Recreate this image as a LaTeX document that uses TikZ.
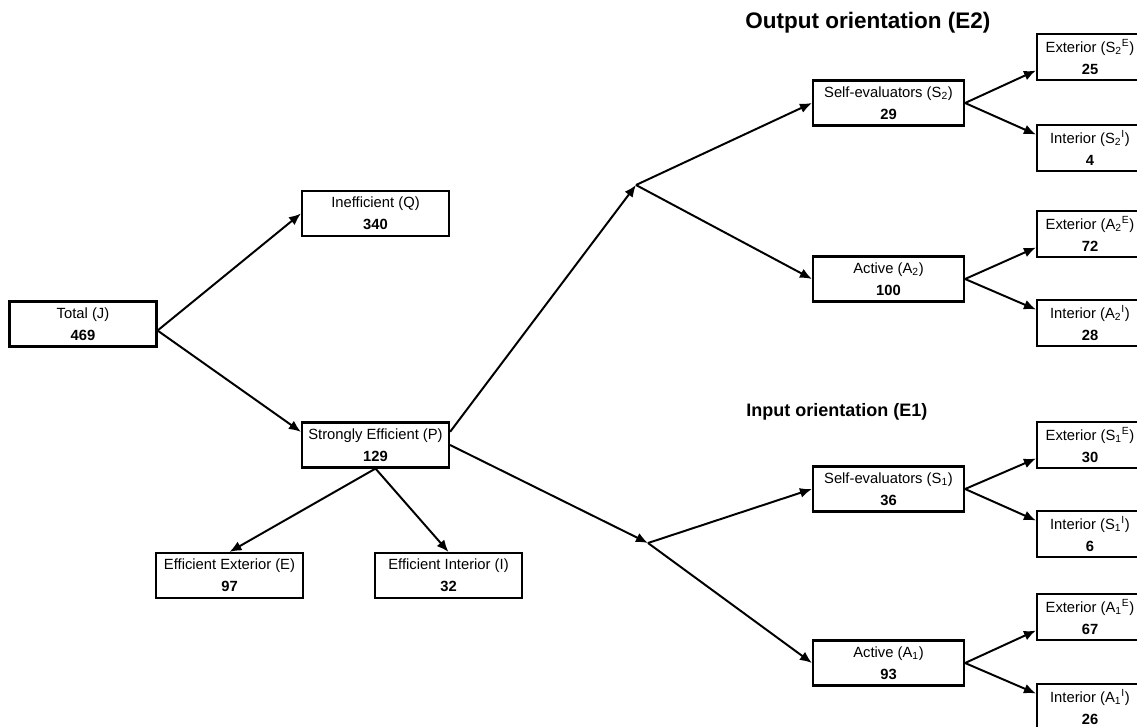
\documentclass[tikz,border=0pt]{standalone}
\usepackage{fontspec}
\setmainfont{Liberation Sans}
\usepackage{tikz}
\usetikzlibrary{arrows.meta, positioning}

\begin{document}
\begin{tikzpicture}[
    x=0.025cm, y=-0.025cm,
    every node/.style={font=\fontsize{10.5}{15.5}\selectfont},
    box/.style={rectangle, draw=black, line width=1.5pt, minimum width=3.675cm, minimum height=1.125cm, align=center, inner sep=1pt},
    midbox/.style={box, minimum width=3.775cm},
    leaf/.style={box, minimum width=2.65cm, minimum height=1.15cm},
    arrow/.style={-{Latex[length=3mm, width=2.5mm]}, line width=1.4pt},
    bigtitle/.style={font=\fontsize{16}{19}\selectfont\bfseries, anchor=west, inner sep=0pt},
    smalltitle/.style={font=\fontsize{12.8}{15}\selectfont\bfseries, anchor=west, inner sep=0pt}
]
\useasboundingbox (0,0) rectangle (1137,726);

% first split
\node (tot) [box] at (83,324) {Total (J)\\\textbf{469}};
\node (ineff) [box] at (375.5,213.5) {Inefficient (Q)\\\textbf{340}};
\node (strong) [box] at (375.5,445) {Strongly Efficient (P)\\\textbf{129}};
\node (effext) [box] at (229.5,575.5) {Efficient Exterior (E)\\\textbf{97}};
\node (effint) [box] at (448.5,575.5) {Efficient Interior (I)\\\textbf{32}};

\coordinate (br2) at (636,185);
\coordinate (br1) at (648,543);

% output orientation
\node (ttl2) [bigtitle] at (745,23) {Output orientation (E2)};
\node (s2) [midbox] at (888.5,103) {Self-evaluators (S\textsubscript{2})\\\textbf{29}};
\node (a2) [midbox] at (888.5,279) {Active (A\textsubscript{2})\\\textbf{100}};
\node (s2e) [leaf] at (1090,57) {Exterior (S\textsubscript{2}\textsuperscript{E})\\\textbf{25}};
\node (s2i) [leaf] at (1090,148) {Interior (S\textsubscript{2}\textsuperscript{I})\\\textbf{4}};
\node (a2e) [leaf] at (1090,234) {Exterior (A\textsubscript{2}\textsuperscript{E})\\\textbf{72}};
\node (a2i) [leaf] at (1090,323) {Interior (A\textsubscript{2}\textsuperscript{I})\\\textbf{28}};

% input orientation
\node (ttl1) [smalltitle] at (746,412) {Input orientation (E1)};
\node (s1) [midbox] at (888.5,489) {Self-evaluators (S\textsubscript{1})\\\textbf{36}};
\node (a1) [midbox] at (888.5,663) {Active (A\textsubscript{1})\\\textbf{93}};
\node (s1e) [leaf] at (1090,445) {Exterior (S\textsubscript{1}\textsuperscript{E})\\\textbf{30}};
\node (s1i) [leaf] at (1090,534) {Interior (S\textsubscript{1}\textsuperscript{I})\\\textbf{6}};
\node (a1e) [leaf] at (1090,617) {Exterior (A\textsubscript{1}\textsuperscript{E})\\\textbf{67}};
\node (a1i) [leaf] at (1090,707) {Interior (A\textsubscript{1}\textsuperscript{I})\\\textbf{26}};

\draw [arrow] (tot.-5) -- (ineff.west);
\draw [arrow] (tot.-5) -- (strong.170);
\draw [arrow] (strong.south) -- (effext.north);
\draw [arrow] (strong.south) -- (effint.north);
\draw [arrow] (strong.10) -- (br2);
\draw [arrow] (strong.east) -- (br1);

\draw [arrow] (br2) -- (s2.west);
\draw [arrow] (br2) -- (a2.west);
\draw [arrow] (br1) -- (s1.west);
\draw [arrow] (br1) -- (a1.west);

\draw [arrow] (s2.east) -- (s2e.194);
\draw [arrow] (s2.east) -- (s2i.166);
\draw [arrow] (a2.east) -- (a2e.194);
\draw [arrow] (a2.east) -- (a2i.166);
\draw [arrow] (s1.east) -- (s1e.194);
\draw [arrow] (s1.east) -- (s1i.166);
\draw [arrow] (a1.east) -- (a1e.194);
\draw [arrow] (a1.east) -- (a1i.166);
\end{tikzpicture}
\end{document}
